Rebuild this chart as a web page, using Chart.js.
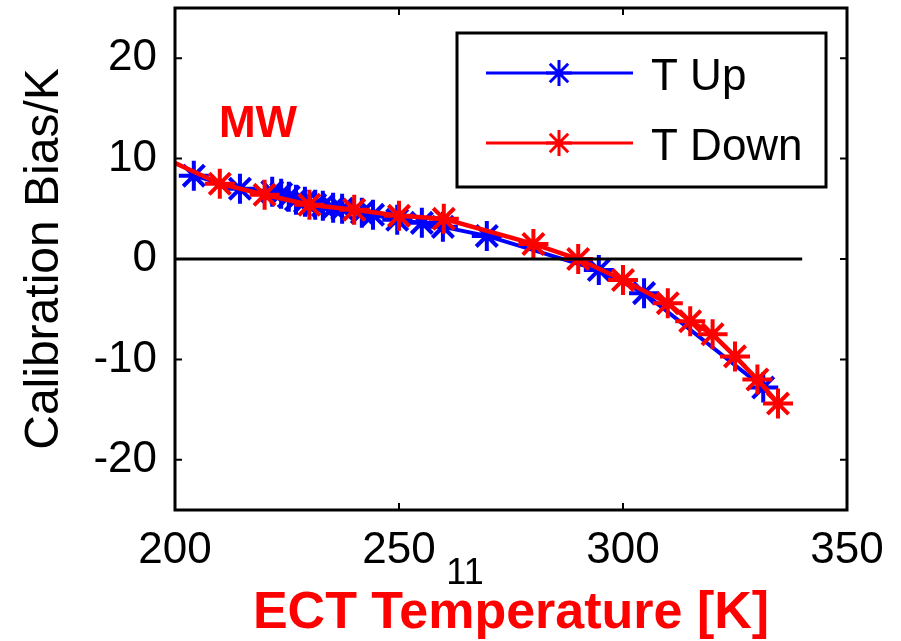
<!DOCTYPE html>
<html>
<head>
<meta charset="utf-8">
<script src="https://cdn.jsdelivr.net/npm/chart.js@4.4.1/dist/chart.umd.min.js"></script>
<style>
html, body { margin: 0; padding: 0; background: #fff; }
#wrap { width: 901px; height: 641px; }
</style>
</head>
<body>
<div id="wrap"><canvas id="chart" width="901" height="641"></canvas></div>
<script>
// T Up (blue)
const upT = [204.2, 214.5, 221.7, 223.7, 225.4, 227.0, 229.0, 231.3, 233.0, 235.3, 237.3, 241.7, 244.2, 249.6, 255.1, 259.8, 269.6, 294.6, 304.7, 331.3];
const upBias = [8.3, 7.0, 6.7, 6.5, 6.2, 5.9, 5.7, 5.4, 5.3, 5.1, 5.0, 4.6, 4.4, 3.9, 3.6, 3.2, 2.3, -1.1, -3.4, -12.8];
// T Down (red)
const downT = [195, 210, 220, 230, 240, 250, 260, 280, 290, 300, 310, 315, 320, 325, 330, 334.6];
const downBias = [10.6, 7.5, 6.4, 5.4, 4.9, 4.3, 4.0, 1.5, 0.0, -2.1, -4.4, -6.2, -7.5, -9.7, -12.0, -14.4];
// reference line
const zeroT = [200, 340];
const zeroBias = [0, 0];

const xTicks = [200, 250, 300, 350];
const yTicks = [-20, -10, 0, 10, 20];
const seriesNames = ['T Up', 'T Down'];
const panelLabel = 'MW';
const pageNum = '11';

const FONT = '"Liberation Sans", Arial, sans-serif';
const toPts = (xs, ys) => xs.map((v, i) => ({ x: v, y: ys[i] }));

const frame = {
    id: 'frame',
    afterDatasetsDraw(chart) {
        const { ctx, chartArea: a, scales: { x, y } } = chart;
        ctx.save();
        // box
        ctx.strokeStyle = '#000';
        ctx.lineWidth = 3;
        ctx.strokeRect(a.left, a.top, a.right - a.left, a.bottom - a.top);
        // inward ticks
        ctx.lineWidth = 2;
        ctx.beginPath();
        xTicks.forEach(v => {
            const px = x.getPixelForValue(v);
            ctx.moveTo(px, a.bottom); ctx.lineTo(px, a.bottom - 7);
            ctx.moveTo(px, a.top); ctx.lineTo(px, a.top + 7);
        });
        yTicks.forEach(v => {
            const py = y.getPixelForValue(v);
            ctx.moveTo(a.left, py); ctx.lineTo(a.left + 7, py);
            ctx.moveTo(a.right, py); ctx.lineTo(a.right - 7, py);
        });
        ctx.stroke();

        // panel label
        ctx.fillStyle = '#ff0000';
        ctx.font = 'bold 44px ' + FONT;
        ctx.textBaseline = 'middle';
        ctx.textAlign = 'left';
        ctx.fillText(panelLabel, x.getPixelForValue(209.8), y.getPixelForValue(13.4));

        // legend
        const lx = 457, ly = 33, lw = 369, lh = 154;
        ctx.fillStyle = '#fff';
        ctx.fillRect(lx, ly, lw, lh);
        ctx.strokeStyle = '#000';
        ctx.lineWidth = 3;
        ctx.strokeRect(lx, ly, lw, lh);
        const colors = ['#0000ff', '#ff0000'];
        const rowsY = [73, 143];
        seriesNames.forEach((name, i) => {
            ctx.strokeStyle = colors[i];
            ctx.lineWidth = 3;
            ctx.beginPath();
            ctx.moveTo(486, rowsY[i]); ctx.lineTo(633, rowsY[i]);
            ctx.stroke();
            Chart.helpers.drawPoint(ctx, { pointStyle: 'star', radius: 13, rotation: 0, borderWidth: 3 }, 559, rowsY[i]);
            ctx.fillStyle = '#000';
            ctx.font = '44px ' + FONT;
            ctx.textAlign = 'left';
            ctx.textBaseline = 'middle';
            ctx.fillText(name, 651, rowsY[i] + 5);
        });

        // stray page number
        ctx.fillStyle = '#000';
        ctx.font = '36px ' + FONT;
        ctx.textAlign = 'center';
        ctx.fillText(pageNum, 465, 574);
        ctx.restore();
    }
};

new Chart(document.getElementById('chart'), {
    type: 'line',
    data: {
        datasets: [
            {
                label: seriesNames[0],
                data: toPts(upT, upBias),
                borderColor: '#0000ff',
                backgroundColor: '#0000ff',
                borderWidth: 4,
                pointStyle: 'star',
                pointRadius: 15,
                pointBorderWidth: 4,
                tension: 0,
                order: 2
            },
            {
                label: seriesNames[1],
                data: toPts(downT, downBias),
                borderColor: '#ff0000',
                backgroundColor: '#ff0000',
                borderWidth: 4.5,
                pointStyle: 'star',
                pointRadius: 15,
                pointBorderWidth: 4,
                tension: 0,
                order: 1
            },
            {
                label: 'zero',
                data: toPts(zeroT, zeroBias),
                borderColor: '#000',
                borderWidth: 3,
                pointRadius: 0,
                order: 0
            }
        ]
    },
    options: {
        responsive: false,
        animation: false,
        layout: { autoPadding: false, padding: { top: 8, right: 54, left: 0, bottom: 0 } },
        plugins: { legend: { display: false }, tooltip: { enabled: false } },
        scales: {
            x: {
                type: 'linear',
                min: 200, max: 350,
                afterBuildTicks: s => { s.ticks = xTicks.map(v => ({ value: v })); },
                afterFit: s => { s.height = 131; s.paddingLeft = 0; s.paddingRight = 0; },
                grid: { display: true, drawOnChartArea: false, drawTicks: true, tickLength: 14, color: 'rgba(0,0,0,0)' },
                border: { display: false },
                ticks: { color: '#000', font: { family: FONT, size: 44 }, padding: 0, maxRotation: 0, autoSkip: false },
                title: {
                    display: true,
                    text: 'ECT Temperature [K]',
                    color: '#ff0000',
                    font: { family: FONT, size: 52, weight: 'bold', lineHeight: 1 },
                    padding: { top: 0, bottom: 1 }
                }
            },
            y: {
                type: 'linear',
                min: -25, max: 25,
                afterBuildTicks: s => { s.ticks = yTicks.map(v => ({ value: v })); },
                afterFit: s => { s.width = 175; s.paddingTop = 0; s.paddingBottom = 0; },
                grid: { display: true, drawOnChartArea: false, drawTicks: true, tickLength: 18, color: 'rgba(0,0,0,0)' },
                border: { display: false },
                ticks: { color: '#000', font: { family: FONT, size: 44 }, padding: 0, autoSkip: false },
                title: {
                    display: true,
                    text: 'Calibration Bias/K',
                    color: '#000',
                    font: { family: FONT, size: 48, lineHeight: 1 },
                    padding: { top: 21, bottom: 0 }
                }
            }
        }
    },
    plugins: [frame]
});
</script>
</body>
</html>
